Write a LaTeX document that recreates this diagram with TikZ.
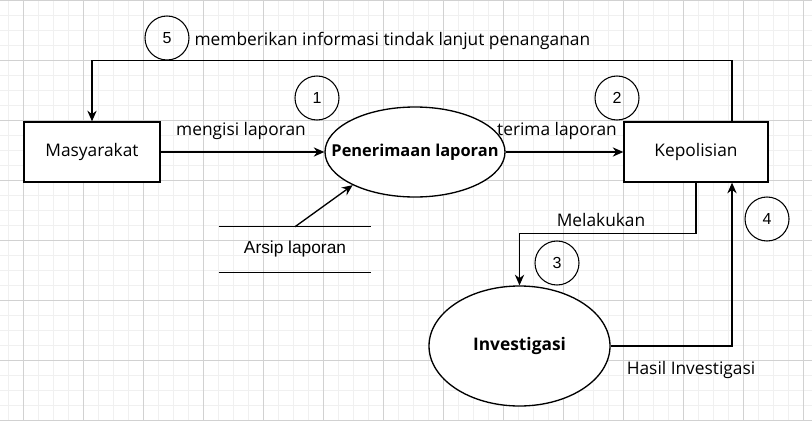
\documentclass[tikz,border=0pt]{standalone}
\usepackage{fontspec}
\setmainfont{Open Sans}
\newfontfamily\arialfont{Liberation Sans}
\usetikzlibrary{arrows.meta,shapes.geometric}
\tikzset{
  entity/.style={draw,line width=1pt,fill=white,minimum width=102pt,minimum height=45pt,inner sep=0pt,font=\fontsize{13}{15}\selectfont},
  proc/.style={draw,ellipse,line width=1pt,fill=white,inner sep=0pt},
  proctext/.style={inner sep=0pt,font=\fontsize{12.3}{14}\selectfont\bfseries},
  num/.style={draw,circle,line width=0.8pt,minimum size=33pt,inner sep=0pt,font=\arialfont\fontsize{12}{14}\selectfont},
  lbl/.style={inner sep=1pt,font=\fontsize{13}{15}\selectfont},
  flow/.style={line width=1pt,->}
}
\begin{document}
\begin{tikzpicture}[x=0.75pt,y=-0.75pt,>={Stealth[length=8pt,width=7pt]}]
			\useasboundingbox (0,0) rectangle (812,421);
			\fill[white] (0,0) rectangle (812,421);
			% grid
			\foreach \gx in {8,23,...,812} \draw[black!6,line width=0.6pt] (\gx,0) -- (\gx,421);
			\foreach \gy in {15,30,...,421} \draw[black!6,line width=0.6pt] (0,\gy) -- (812,\gy);
			\foreach \gx in {23,83,...,812} \draw[black!18,line width=0.6pt] (\gx,0) -- (\gx,421);
			\foreach \gy in {0,60,...,421} \draw[black!18,line width=0.6pt] (0,\gy) -- (812,\gy);
			% entities and processes
			\node[entity] (masy) at (92,152) {Masyarakat};
			\node[entity,minimum width=108pt] (kepo) at (696,152) {Kepolisian};
			\node[proc,minimum width=135pt,minimum height=67.5pt] (terima) at (415,152) {};
			\node[proctext] (terimatxt) at (terima) {Penerimaan laporan};
			\node[proc,minimum width=135.75pt,minimum height=90pt] (invest) at (519.5,346) {};
			\node[proctext,font=\fontsize{13}{15}\selectfont\bfseries] (investtxt) at (invest) {Investigasi};
			% data store
			\node[minimum width=114pt,minimum height=33.75pt,inner sep=0pt,font=\arialfont\fontsize{13}{15}\selectfont] (arsip) at (295,249.5) {Arsip laporan};
			\draw[line width=1pt] (arsip.north west) -- (arsip.north east);
			\draw[line width=1pt] (arsip.south west) -- (arsip.south east);
			% flows
			\draw[flow] (masy.east) -- (terima.west);
			\draw[flow] (terima.east) -- (kepo.west);
			\draw[flow] (arsip.north) -- (terima.208);
			\draw[flow] (kepo.south) -- ++(0,51) -| (invest.north);
			\draw[flow] (invest.east) -| ([xshift=27pt]kepo.south);
			\draw[flow] ([xshift=27pt]kepo.north) -- ++(0,-61) -| (masy.north);
			% labels
			\node[lbl] (l1) at (241,131) {mengisi laporan};
			\node[lbl] (l2) at (557,131) {terima laporan};
			\node[lbl] (l3) at (601,220) {Melakukan};
			\node[lbl] (l4) at (691,370) {Hasil Investigasi};
			\node[lbl,anchor=west] (l5) at (193,41) {memberikan informasi tindak lanjut penanganan};
			% numbers
			\node[num] (n1) at (317,98) {1};
			\node[num] (n2) at (617,98) {2};
			\node[num] (n3) at (557,263) {3};
			\node[num] (n4) at (767,219) {4};
			\node[num] (n5) at (167,38) {5};
		\end{tikzpicture}
\end{document}
